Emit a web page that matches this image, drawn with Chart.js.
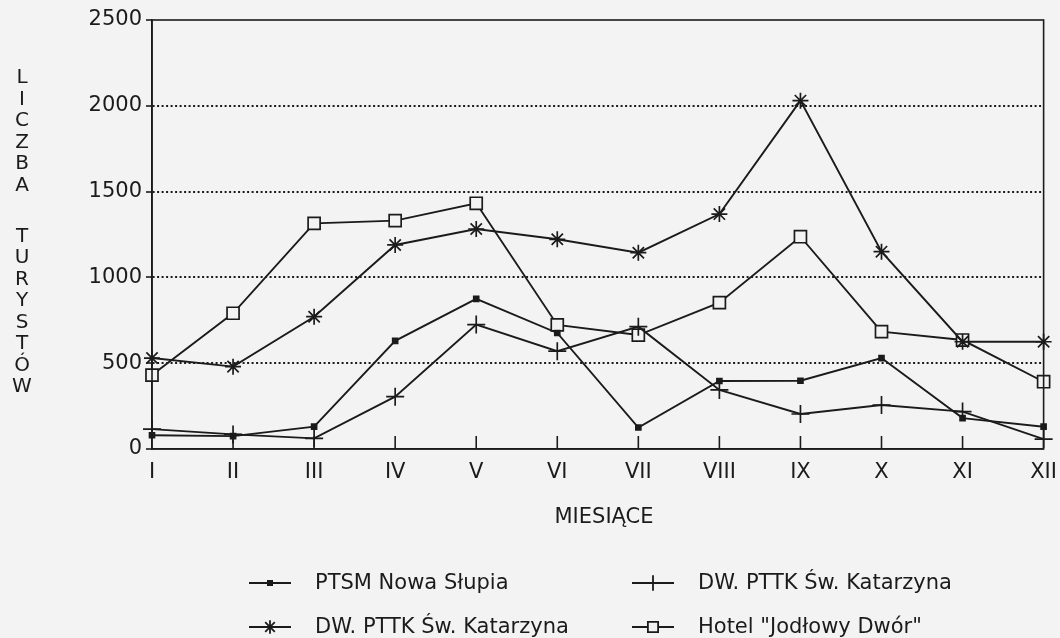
<!DOCTYPE html>
<html>
<head>
<meta charset="utf-8">
<script src="https://cdn.jsdelivr.net/npm/chart.js@4"></script>
<style>
  html, body { margin: 0; padding: 0; background: #f3f3f3; }
  #wrap { width: 1060px; height: 638px; position: relative; }
</style>
</head>
<body>
<div id="wrap"><canvas id="chart" width="1060" height="638"></canvas></div>
<script>
// months on the x axis
const months = ['I', 'II', 'III', 'IV', 'V', 'VI', 'VII', 'VIII', 'IX', 'X', 'XI', 'XII'];

// tourists per month
const ptsmNowaSlupia = [80, 75, 130, 630, 875, 676, 125, 396, 398, 530, 180, 130];
const dwPttkCross = [116, 85, 62, 305, 725, 570, 713, 344, 204, 256, 218, 58];
const dwPttkStar = [530, 480, 771, 1189, 1282, 1222, 1144, 1369, 2030, 1150, 625, 625];
const hotelJodlowy = [431, 791, 1315, 1331, 1432, 723, 664, 853, 1237, 684, 635, 392];

const yTicks = [0, 500, 1000, 1500, 2000, 2500];

const yTitle = 'LICZBA TURYSTÓW';
const xTitle = 'MIESIĄCE';

const ink = '#1b1b1b';
const paper = '#f3f3f3';
const font = '"DejaVu Sans", sans-serif';

// box round the plot, inward month ticks, stacked y title, x title and legend
const decorations = {
    id: 'decorations',
    afterDatasetsDraw(chart) {
        const { ctx, chartArea: a, scales } = chart;
        ctx.save();
        ctx.strokeStyle = ink;
        ctx.lineWidth = 1.6;
        ctx.strokeRect(a.left, a.top, a.right - a.left, a.bottom - a.top);

        // month ticks pointing up into the plot
        const x = scales.x;
        for (let i = 1; i < months.length - 1; i++) {
            const px = x.getPixelForTick(i);
            ctx.beginPath();
            ctx.moveTo(px, a.bottom);
            ctx.lineTo(px, a.bottom - 13);
            ctx.stroke();
        }
        ctx.restore();
    },
    afterDraw(chart) {
        const { ctx } = chart;
        ctx.save();
        ctx.fillStyle = ink;
        ctx.textAlign = 'center';
        ctx.textBaseline = 'middle';
        ctx.font = '20px ' + font;

        // vertical title, one letter under another
        let ty = 78;
        for (const ch of yTitle) {
            if (ch !== ' ') ctx.fillText(ch, 22, ty);
            ty += ch === ' ' ? 29.5 : 21.5;
        }

        ctx.font = '21px ' + font;
        ctx.fillText(xTitle, 604, 518);

        // legend in two columns
        const cells = [[270, 583], [653, 583], [270, 627], [653, 627]];
        ctx.textAlign = 'left';
        chart.data.datasets.forEach((ds, k) => {
            const [cx, cy] = cells[k];
            ctx.strokeStyle = ink;
            ctx.lineWidth = 1.8;
            ctx.beginPath();
            ctx.moveTo(cx - 21, cy);
            ctx.lineTo(cx + 21, cy);
            ctx.stroke();
            ctx.fillStyle = ds.pointBackgroundColor;
            Chart.helpers.drawPoint(ctx, {
                pointStyle: ds.pointStyle,
                radius: ds.pointRadius * 0.85,
                rotation: 0,
                borderWidth: ds.pointBorderWidth
            }, cx, cy);
            ctx.fillStyle = ink;
            ctx.fillText(ds.label, cx + 45, cy + 1);
        });
        ctx.restore();
    }
};

const lineStyle = {
    borderColor: ink,
    borderWidth: 1.9,
    pointBorderColor: ink,
    pointBorderWidth: 1.7,
    tension: 0,
    fill: false
};

new Chart(document.getElementById('chart'), {
    type: 'line',
    data: {
        labels: months,
        datasets: [
            { ...lineStyle, label: 'PTSM Nowa Słupia', data: ptsmNowaSlupia,
              pointStyle: 'rect', pointRadius: 3.5, pointBackgroundColor: ink },
            { ...lineStyle, label: 'DW. PTTK Św. Katarzyna', data: dwPttkCross,
              pointStyle: 'cross', pointRadius: 9, pointBackgroundColor: ink },
            { ...lineStyle, label: 'DW. PTTK Św. Katarzyna', data: dwPttkStar,
              pointStyle: 'star', pointRadius: 8, pointBackgroundColor: ink },
            { ...lineStyle, label: 'Hotel "Jodłowy Dwór"', data: hotelJodlowy,
              pointStyle: 'rect', pointRadius: 8.5, pointBackgroundColor: paper }
        ]
    },
    options: {
        responsive: false,
        animation: false,
        layout: { padding: { top: 20, right: 0, bottom: 149, left: 0 } },
        plugins: {
            legend: { display: false },
            tooltip: { enabled: false }
        },
        scales: {
            x: {
                offset: false,
                grid: { display: false },
                border: { display: true, color: ink, width: 1.6 },
                ticks: { color: ink, font: { family: font, size: 21 }, padding: 3, maxRotation: 0 },
                afterFit(scale) { scale.height = 40; }
            },
            y: {
                min: 0,
                max: 2500,
                afterBuildTicks(scale) { scale.ticks = yTicks.map(v => ({ value: v })); },
                grid: {
                    color: ctx => (ctx.tick && (ctx.tick.value === 0 || ctx.tick.value === 2500)) ? 'rgba(0,0,0,0)' : ink,
                    lineWidth: 2,
                    tickColor: ink,
                    tickLength: 6,
                    tickWidth: 1.6
                },
                border: { display: true, color: ink, width: 1.6, dash: [2, 2.5] },
                ticks: {
                    color: ink,
                    font: { family: font, size: 21 },
                    padding: 4,
                    callback: v => String(v)
                },
                afterFit(scale) { scale.width = 152; }
            }
        }
    },
    plugins: [decorations]
});
</script>
</body>
</html>
